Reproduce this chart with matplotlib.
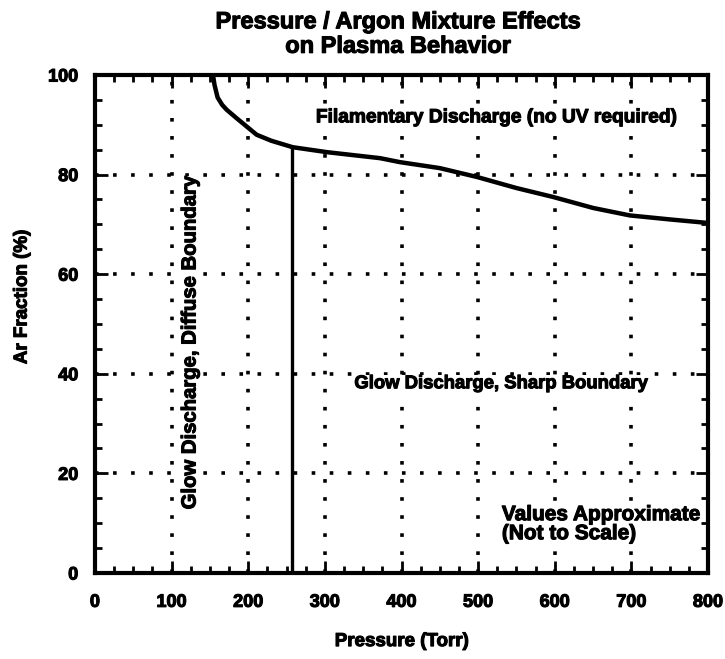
import matplotlib.pyplot as plt
import matplotlib.patheffects as pe
import numpy as np

# boundary between filamentary and glow discharge
boundary_p = [154, 156, 160, 166, 172, 185, 211, 230, 258, 303, 372, 398, 450, 499, 550, 598, 650, 698, 750, 799]
boundary_ar = [100, 98, 95.5, 94, 93, 91.3, 88, 86.8, 85.5, 84.5, 83.3, 82.5, 81.3, 79.5, 77.3, 75.5, 73.3, 71.8, 71, 70.3]

# diffuse / sharp boundary at fixed pressure
diffuse_p = 257
diffuse_top = 85.5

xticks = [0, 100, 200, 300, 400, 500, 600, 700, 800]
yticks = [0, 20, 40, 60, 80, 100]

plt.rcParams['font.family'] = ['Liberation Sans', 'DejaVu Sans']
plt.rcParams['font.weight'] = 'bold'

heavy = [pe.withStroke(linewidth=0.8, foreground='black')]

fig = plt.figure(figsize=(7.25, 6.59), dpi=100)
ax = fig.add_axes([0.131, 0.1305, 0.8456, 0.7557])

ax.set_xlim(0, 800)
ax.set_ylim(0, 100)

# dotted grid
for x in xticks[1:-1]:
    ax.axvline(x, color='black', lw=2.6, linestyle=(0, (1, 4)), zorder=1)
for y in yticks[1:-1]:
    ax.axhline(y, color='black', lw=2.6, linestyle=(0, (1, 4)), zorder=1)

ax.plot(boundary_p, boundary_ar, color='black', lw=3.2, solid_capstyle='butt', zorder=3)
ax.plot([diffuse_p, diffuse_p], [0, diffuse_top], color='black', lw=2.4, zorder=3)

ax.set_xticks(xticks)
ax.set_yticks(yticks)
ax.set_xticks(np.arange(0, 801, 25), minor=True)
ax.set_yticks(np.arange(0, 101, 5), minor=True)
ax.tick_params(which='both', direction='in', top=True, right=True, width=2, colors='black')
ax.tick_params(which='major', length=9, labelsize=13)
ax.tick_params(axis='x', which='major', pad=15)
ax.tick_params(axis='y', which='major', pad=12)
ax.tick_params(which='minor', length=5)
for lab in ax.get_xticklabels() + ax.get_yticklabels():
    lab.set_fontweight('bold')
    lab.set_path_effects(heavy)
for s in ax.spines.values():
    s.set_linewidth(3)
    s.set_zorder(5)
ax.xaxis.set_zorder(5)
ax.yaxis.set_zorder(5)

ax.set_xlabel('Pressure (Torr)', fontsize=13.5, fontweight='bold', labelpad=16, path_effects=heavy)
ax.set_ylabel('Ar Fraction (%)', fontsize=13.5, fontweight='bold', path_effects=heavy)
ax.yaxis.set_label_coords(-0.105, 0.554)
ax.set_title('Pressure / Argon Mixture Effects\non Plasma Behavior', fontsize=17,
             fontweight='bold', linespacing=1.08, pad=16, x=0.495, path_effects=heavy)

box = dict(facecolor='white', edgecolor='none', pad=0.5)
ax.text(523, 91.4, 'Filamentary Discharge (no UV required)', fontsize=13.8, fontweight='bold',
        ha='center', va='center', bbox=box, zorder=4, path_effects=heavy)
ax.text(530, 38, 'Glow Discharge, Sharp Boundary', fontsize=13.3, fontweight='bold',
        ha='center', va='center', bbox=box, zorder=4, path_effects=heavy)
ax.text(124, 46.2, 'Glow Discharge, Diffuse Boundary', fontsize=14.6, fontweight='bold',
        ha='center', va='center', rotation=90, bbox=box, zorder=4, path_effects=heavy)
ax.text(531, 9.8, 'Values Approximate\n(Not to Scale)', fontsize=15, fontweight='bold',
        ha='left', va='center', linespacing=1.0, bbox=box, zorder=4, path_effects=heavy)

fig.savefig('out.png', dpi=100)
